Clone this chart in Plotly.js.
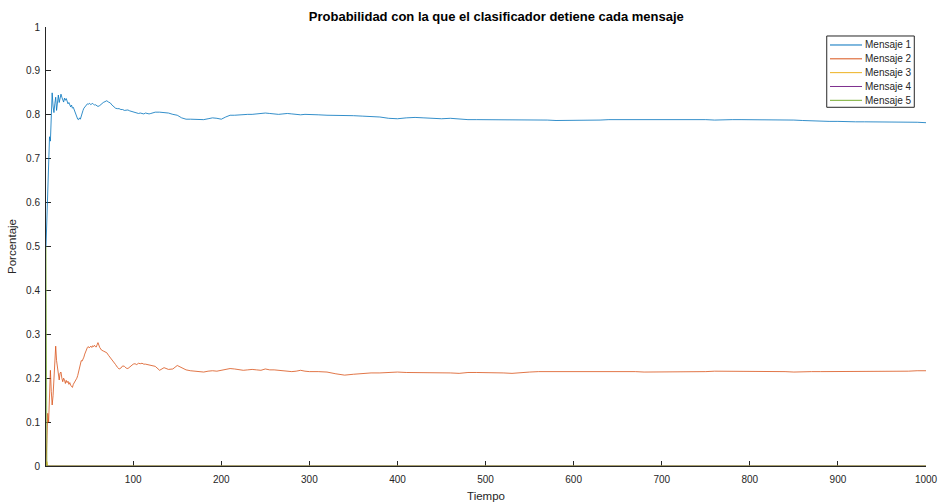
<!DOCTYPE html>
<html>
<head>
<meta charset="utf-8">
<script src="https://cdn.plot.ly/plotly-3.0.1.min.js"></script>
<style>
  html, body { margin: 0; padding: 0; background: #ffffff; }
  #grafico { width: 940px; height: 504px; }
</style>
</head>
<body>
<div id="grafico"></div>
<script>
// Instantes de muestreo para los mensajes 1 y 2
const tiempo = [
  1,2,3,4,5,6,7,8,9,10,11,12,13,14,15,16,17,18,19,20,
  21,22,23,24,25,26,27,28,29,30,31,32,33,34,35,36,37,38,39,40,
  41,42,43,44,45,46,47,48,49,50,51,52,53,54,55,56,57,58,59,60,
  62,64,66,68,70,72,74,76,78,80,82,84,86,88,90,92,94,96,98,100,
  102,104,106,108,110,112,114,116,118,120,
  125,130,135,140,145,150,155,160,165,170,175,180,185,190,195,200,
  205,210,215,220,225,230,235,240,245,250,255,260,265,270,275,280,285,290,295,300,
  310,320,330,340,350,360,370,380,390,400,410,420,430,440,450,460,470,480,490,500,
  510,520,530,540,550,560,570,580,590,600,610,620,630,640,650,660,670,680,690,700,
  710,720,730,740,750,760,770,780,790,800,810,820,830,840,850,860,870,880,890,900,
  910,920,930,940,950,960,970,980,990,1000
];

// Probabilidad de detención del mensaje 1
const mensaje1 = [
  0.500,0.560,0.650,0.700,0.750,0.740,0.780,0.850,0.820,0.805,
  0.825,0.840,0.810,0.830,0.845,0.828,0.838,0.847,0.840,0.833,
  0.829,0.838,0.833,0.837,0.830,0.825,0.828,0.820,0.818,0.822,
  0.815,0.817,0.811,0.803,0.798,0.794,0.790,0.789,0.793,0.790,
  0.799,0.806,0.810,0.815,0.817,0.821,0.822,0.825,0.824,0.826,
  0.825,0.823,0.825,0.826,0.824,0.822,0.823,0.821,0.820,0.819,
  0.821,0.825,0.828,0.830,0.832,0.829,0.827,0.822,0.818,0.815,
  0.814,0.814,0.812,0.812,0.810,0.810,0.811,0.809,0.808,0.806,
  0.806,0.805,0.803,0.804,0.803,0.802,0.804,0.803,0.802,0.803,
  0.806,0.806,0.805,0.804,0.801,0.799,0.793,0.790,0.790,0.790,0.789,0.789,0.791,0.793,0.792,0.790,
  0.795,0.799,0.799,0.800,0.800,0.801,0.801,0.802,0.803,0.804,0.803,0.802,0.801,0.802,0.803,0.802,0.801,0.800,0.801,0.801,
  0.800,0.799,0.799,0.799,0.798,0.797,0.796,0.795,0.792,0.791,0.793,0.794,0.793,0.792,0.791,0.792,0.790,0.789,0.789,0.789,
  0.789,0.788,0.789,0.789,0.788,0.788,0.788,0.787,0.787,0.787,0.787,0.788,0.788,0.789,0.789,0.789,0.789,0.790,0.790,0.790,
  0.789,0.789,0.789,0.789,0.789,0.788,0.789,0.789,0.789,0.789,0.788,0.788,0.788,0.789,0.788,0.787,0.786,0.786,0.785,0.785,
  0.784,0.784,0.784,0.784,0.784,0.784,0.784,0.783,0.783,0.782
];

// Probabilidad de detención del mensaje 2
const mensaje2 = [
  0.000,0.080,0.120,0.100,0.160,0.218,0.170,0.139,0.160,0.200,
  0.250,0.273,0.240,0.226,0.205,0.196,0.212,0.214,0.200,0.192,
  0.200,0.196,0.188,0.195,0.190,0.193,0.186,0.190,0.184,0.182,
  0.179,0.186,0.189,0.192,0.197,0.200,0.206,0.214,0.228,0.237,
  0.240,0.239,0.242,0.248,0.255,0.262,0.268,0.270,0.272,0.269,
  0.271,0.273,0.270,0.274,0.272,0.275,0.272,0.271,0.276,0.281,
  0.270,0.264,0.262,0.259,0.258,0.252,0.247,0.243,0.236,0.231,
  0.225,0.221,0.223,0.228,0.227,0.223,0.222,0.226,0.230,0.232,
  0.233,0.231,0.234,0.233,0.234,0.232,0.232,0.231,0.230,0.229,
  0.227,0.218,0.224,0.220,0.221,0.229,0.223,0.219,0.217,0.216,0.215,0.214,0.216,0.217,0.216,0.218,
  0.219,0.222,0.221,0.220,0.218,0.219,0.220,0.219,0.218,0.221,0.219,0.219,0.218,0.218,0.217,0.215,0.216,0.218,0.216,0.215,
  0.215,0.214,0.210,0.207,0.209,0.211,0.212,0.212,0.213,0.214,0.213,0.213,0.212,0.212,0.213,0.212,0.211,0.213,0.213,0.213,
  0.213,0.212,0.211,0.213,0.214,0.215,0.215,0.216,0.216,0.216,0.215,0.215,0.216,0.215,0.215,0.215,0.215,0.214,0.214,0.215,
  0.215,0.215,0.215,0.215,0.215,0.216,0.216,0.216,0.216,0.215,0.216,0.216,0.215,0.215,0.214,0.215,0.215,0.215,0.215,0.215,
  0.215,0.216,0.215,0.216,0.216,0.216,0.216,0.216,0.217,0.217
];

// Mensajes 3, 4 y 5: casi nulos salvo en los primeros instantes
const tiempo3 = [1, 2, 3, 1000];
const mensaje3 = [0, 0.01, 0, 0];
const tiempo4 = [1, 1000];
const mensaje4 = [0, 0];
const tiempo5 = [1, 2, 1000];
const mensaje5 = [0.5, 0, 0];

const nombres = ['Mensaje 1', 'Mensaje 2', 'Mensaje 3', 'Mensaje 4', 'Mensaje 5'];
const colores = ['#0072BD', '#D95319', '#EDB120', '#7E2F8E', '#77AC30'];

const series = [
  [tiempo, mensaje1],
  [tiempo, mensaje2],
  [tiempo3, mensaje3],
  [tiempo4, mensaje4],
  [tiempo5, mensaje5]
];

const trazas = series.map(function (s, i) {
  return {
    x: s[0],
    y: s[1],
    type: 'scatter',
    mode: 'lines',
    name: nombres[i],
    showlegend: false,
    line: { color: colores[i], width: 0.8 }
  };
});

const fuente = 'Liberation Sans, Arial, Helvetica, sans-serif';
const gris = '#262626';

// Leyenda compacta en la esquina superior derecha (coordenadas de papel)
const cajaLeyenda = { x0: 0.8872, x1: 0.9867, y0: 0.8171, y1: 0.9795 };
const filaSuperior = 0.959;
const pasoFila = 0.0315;
const formas = [{
  type: 'rect', xref: 'paper', yref: 'paper',
  x0: cajaLeyenda.x0, x1: cajaLeyenda.x1, y0: cajaLeyenda.y0, y1: cajaLeyenda.y1,
  line: { color: gris, width: 1 }, fillcolor: '#ffffff', layer: 'above'
}];
const anotaciones = [];
nombres.forEach(function (nombre, i) {
  const yFila = filaSuperior - i * pasoFila;
  formas.push({
    type: 'line', xref: 'paper', yref: 'paper',
    x0: 0.8909, x1: 0.9273, y0: yFila, y1: yFila,
    line: { color: colores[i], width: 1 }, layer: 'above'
  });
  anotaciones.push({
    xref: 'paper', yref: 'paper', x: 0.9300, y: yFila,
    xanchor: 'left', yanchor: 'middle', showarrow: false, borderpad: 0,
    text: nombre, font: { family: fuente, size: 10, color: gris }
  });
});

const layout = {
  width: 940,
  height: 504,
  paper_bgcolor: '#ffffff',
  plot_bgcolor: '#ffffff',
  margin: { l: 46, r: 14, t: 27, b: 38, pad: 0 },
  font: { family: fuente, size: 10, color: gris },
  showlegend: false,
  title: {
    text: '<b>Probabilidad con la que el clasificador detiene cada mensaje</b>',
    font: { family: fuente, size: 13, color: '#000000' },
    x: 0.528,
    xanchor: 'center',
    y: 0.968,
    yanchor: 'middle'
  },
  xaxis: {
    range: [1, 1000],
    tick0: 0,
    dtick: 100,
    ticks: 'inside',
    ticklen: 5,
    tickwidth: 1,
    tickcolor: gris,
    showline: true,
    linecolor: gris,
    linewidth: 1,
    showgrid: false,
    zeroline: false,
    layer: 'below traces',
    ticklabelstandoff: 4,
    tickfont: { family: fuente, size: 10, color: gris },
    title: { text: 'Tiempo', font: { family: fuente, size: 11.5, color: gris }, standoff: 7 }
  },
  yaxis: {
    range: [0, 1],
    tick0: 0,
    dtick: 0.1,
    ticks: 'inside',
    ticklen: 5,
    tickwidth: 1,
    tickcolor: gris,
    showline: true,
    linecolor: gris,
    linewidth: 1,
    showgrid: false,
    zeroline: false,
    layer: 'below traces',
    ticklabelstandoff: 3,
    tickfont: { family: fuente, size: 10, color: gris },
    title: { text: 'Porcentaje', font: { family: fuente, size: 11.5, color: gris }, standoff: 7 }
  },
  shapes: formas,
  annotations: anotaciones
};

Plotly.newPlot('grafico', trazas, layout, { staticPlot: true, displayModeBar: false });
</script>
</body>
</html>
